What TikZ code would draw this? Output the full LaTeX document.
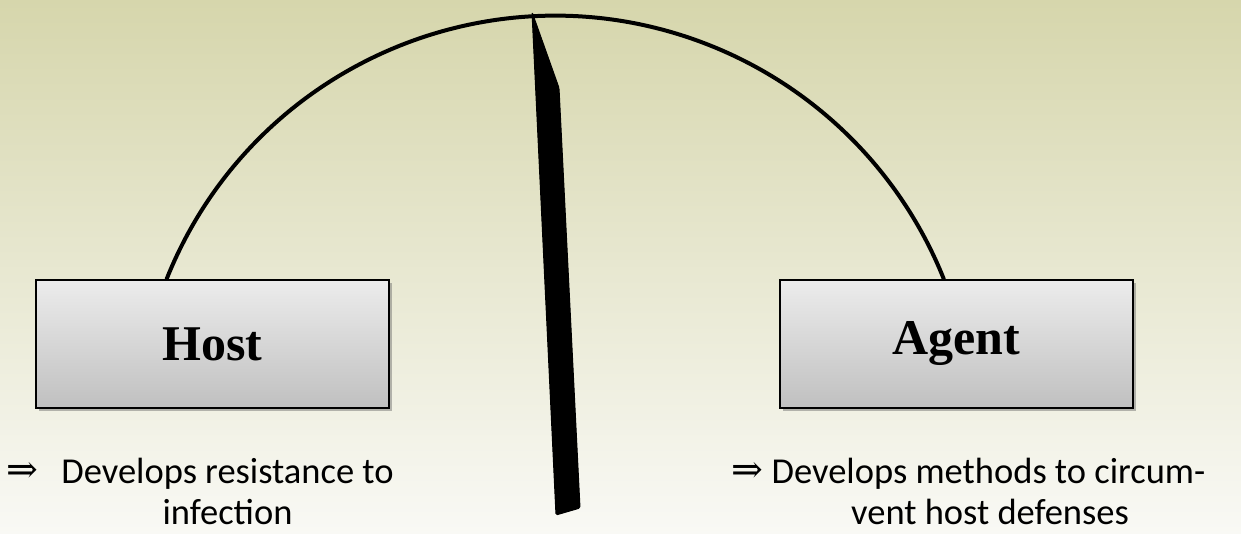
\documentclass[tikz,border=0pt]{standalone}
\usepackage{fontspec}
\setmainfont{Carlito}
\newfontfamily\boxfont{Liberation Serif}
\newfontfamily\arrowfont{DejaVu Serif}
\usetikzlibrary{shadows,calc}
\definecolor{bgtop}{RGB}{214,214,172}
\definecolor{bgbot}{RGB}{249,249,245}
\definecolor{boxtop}{RGB}{236,236,236}
\definecolor{boxbot}{RGB}{192,192,192}
\tikzset{
  agentbox/.style={draw=black, line width=2.5pt, top color=boxtop, bottom color=boxbot,
    minimum width=353pt, minimum height=128pt, inner sep=0pt,
    font=\boxfont\bfseries\fontsize{50}{60}\selectfont,
    drop shadow={shadow xshift=3pt, shadow yshift=-3pt, opacity=0.45, fill=black!60}},
  bodytext/.style={anchor=base, inner sep=0pt, font=\fontsize{36.5}{43}\selectfont},
  implies/.style={inner sep=0pt, font=\arrowfont\fontsize{38}{44}\selectfont},
  arcline/.style={line width=4pt, line cap=round},
  needle/.style={fill=black, draw=black, line width=1pt, line join=round, rounded corners=1.5pt}
}
\begin{document}
\begin{tikzpicture}[x=1pt,y=1pt]
\useasboundingbox (0,0) rectangle (1241,534);
\shade[top color=bgtop, bottom color=bgbot] (0,0) rectangle (1241,534);

\node[agentbox] (host) at (212.5,190) {Host};
\node[agentbox] (agent) at (956.5,190) {Agent};

\coordinate (a1) at ($(host.north west)+(132,0)$);
\draw[arcline] (a1) arc[start angle=158.2, end angle=21.8, radius=418.4] coordinate (a2);

\filldraw[needle] (532,522) -- (559,446) -- (580,26) -- (556,19) -- cycle;

\node[implies] (ia) at (22.5,61.5) {⇒};
\node[bodytext] (h1) at (227.5,50) {Develops resistance to};
\node[bodytext] (h2) at (227.5,9) {infection};

\node[implies] (ib) at (747.5,61.5) {⇒};
\node[bodytext] (g1) at (988.5,50) {Develops methods to circum-};
\node[bodytext] (g2) at (990,9) {vent host defenses};
\end{tikzpicture}
\end{document}
